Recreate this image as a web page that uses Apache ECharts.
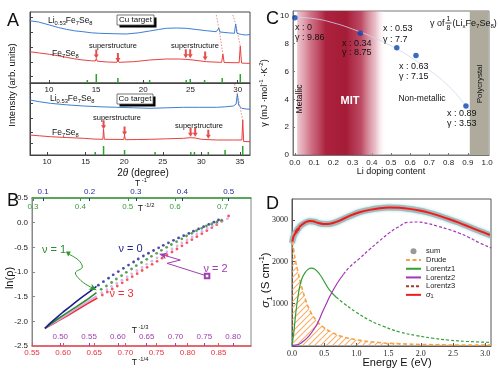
<!DOCTYPE html>
<html><head><meta charset="utf-8">
<script src="https://cdn.jsdelivr.net/npm/echarts@6/dist/echarts.min.js"></script>
<style>html,body{margin:0;padding:0;background:#fff}#c{width:500px;height:369px}</style>
</head><body><div id="c"></div><script>
// ---------- Panel A : XRD, 2theta (deg) vs intensity (arb. units) ----------
const cuLi = [[7.96,62.3],[8.9,61],[10.07,58],[11.0,55.5],[11.84,53.7],[12.7,52.2],[13.6,51.3],[14.5,50.2],[15.37,49.7],[16.8,49.3],[18.2,49],[19.5,50.2],[20.67,52],[21.6,53.5],[22.44,54.7],[23.5,55],[24.55,54.7],[25.6,53.5],[26.67,52.3],[27.73,51.3],[27.88,51.5],[28.0,55],[28.12,51],[28.26,50.7],[29.0,50.2],[29.65,49.7],[29.78,59],[29.92,49.7],[30.4,48.5],[30.9,48],[31.3,48.5]];
const cuFe = [[7.96,31.3],[9.0,30],[10.07,28.7],[11.0,27.2],[11.84,25.7],[12.7,24.2],[13.6,23],[14.5,22.2],[14.92,22],[15.02,24.5],[15.12,21.8],[16.2,21],[17.2,20.7],[17.31,23],[17.42,20.7],[19.0,21.3],[20.67,23],[22.44,24],[23.85,24],[24.5,23.6],[25.26,23],[26.67,21.3],[28.08,20.7],[28.3,20.7],[28.43,29],[28.56,20.5],[29.5,20.3],[30.15,20.3],[30.27,37],[30.4,20],[30.8,19.7],[31.3,19.7]];
const cuRef = [[14.07,3],[15.02,9],[17.31,5],[20.67,3],[24.55,3],[24.97,4],[26.49,3],[28.36,5],[30.27,9]];
const cuArrows = [[15.02,29],[17.31,25.5],[24.5,29.3],[24.97,29.3],[26.55,27]];
const cuShift1 = [[27.73,68],[28.0,55],[28.43,29]];
const cuShift2 = [[29.49,68],[29.78,59],[30.27,37]];

const coLi = [[7.8,55],[9.0,53.3],[10.43,51.7],[12.5,50.2],[14.74,49],[17.0,48.2],[19.06,47.7],[21.2,47.2],[23.36,46.7],[25.5,47.2],[27.67,47.7],[29.8,47.7],[31.99,47.7],[33.1,48.2],[34.14,49],[34.5,51],[34.66,61],[34.82,50],[35.22,46.7],[35.8,46],[36.3,45.7]];
const coFe = [[7.8,20],[9.0,19.2],[10.43,18.3],[12.5,17.5],[14.74,16.7],[16.2,15.9],[17.24,15.7],[17.33,26],[17.43,15.7],[18.7,15.6],[19.95,15.5],[20.05,20],[20.15,15.3],[21.7,15.5],[23.36,15.7],[25.5,16.2],[27.67,16.7],[28.6,17.3],[29.2,17],[30.0,15.7],[31.99,15],[34.14,15],[35.25,15],[35.36,35],[35.48,13.5],[36.3,13.3]];
const coRef = [[16.25,3],[17.33,9],[20.05,5],[24.0,3],[28.63,3],[29.1,3],[30.9,3],[33.07,5],[35.36,9]];
const coArrows = [[17.33,30.3],[20.05,24],[28.6,22.7],[29.2,22.7],[30.9,20.7]];
const coShift = [[34.3,71],[34.66,61],[35.36,35]];
const cuTicks = [10,15,20,25,30];
const coTicks = [10,15,20,25,30,35];

// ---------- Panel B : ln(rho) vs T^-nu ----------
const nu0Line = [[0.104,-2.142],[0.114,-2.047],[0.129,-1.926],[0.143,-1.811],[0.158,-1.703],[0.172,-1.595],[0.186,-1.493],[0.201,-1.392],[0.215,-1.291]];
const nu0Dots = [[0.219,-1.267],[0.230,-1.196],[0.241,-1.125],[0.251,-1.057],[0.262,-0.992],[0.273,-0.926],[0.284,-0.860],[0.295,-0.797],[0.305,-0.736],[0.316,-0.676],[0.327,-0.620],[0.338,-0.564],[0.349,-0.510],[0.359,-0.459],[0.370,-0.409],[0.381,-0.358],[0.392,-0.309],[0.403,-0.264],[0.414,-0.218],[0.424,-0.172],[0.435,-0.127],[0.446,-0.081],[0.457,-0.036],[0.468,0.009],[0.478,0.054]];
const nu1Line = [[0.325,-2.142],[0.349,-1.973],[0.370,-1.838],[0.392,-1.703],[0.413,-1.568],[0.434,-1.419]];
const nu1Dots = [[0.444,-1.351],[0.455,-1.284],[0.466,-1.213],[0.476,-1.142],[0.487,-1.074],[0.497,-1.007],[0.508,-0.939],[0.518,-0.872],[0.529,-0.807],[0.540,-0.743],[0.550,-0.682],[0.561,-0.622],[0.571,-0.561],[0.582,-0.500],[0.592,-0.443],[0.603,-0.385],[0.614,-0.328],[0.624,-0.270],[0.635,-0.216],[0.645,-0.162],[0.656,-0.115],[0.666,-0.068],[0.677,-0.027],[0.688,0.014],[0.698,0.051]];
const nu2Line = [[0.473,-2.142],[0.494,-1.993],[0.511,-1.872],[0.528,-1.743],[0.546,-1.615],[0.563,-1.486]];
const nu2Dots = [[0.572,-1.422],[0.581,-1.358],[0.589,-1.294],[0.598,-1.230],[0.607,-1.166],[0.616,-1.101],[0.624,-1.037],[0.633,-0.973],[0.642,-0.909],[0.650,-0.845],[0.659,-0.780],[0.668,-0.716],[0.676,-0.655],[0.685,-0.595],[0.694,-0.534],[0.703,-0.473],[0.711,-0.412],[0.720,-0.351],[0.729,-0.291],[0.737,-0.230],[0.746,-0.176],[0.755,-0.122],[0.764,-0.068],[0.772,-0.014],[0.781,0.034],[0.790,0.081]];
const nu3Line = [[0.571,-2.142],[0.590,-2.007],[0.606,-1.892],[0.622,-1.770],[0.638,-1.649],[0.655,-1.527]];
const nu3Dots = [[0.663,-1.466],[0.671,-1.405],[0.679,-1.345],[0.687,-1.284],[0.695,-1.220],[0.703,-1.155],[0.711,-1.095],[0.719,-1.034],[0.727,-0.970],[0.735,-0.905],[0.743,-0.845],[0.751,-0.784],[0.759,-0.720],[0.767,-0.655],[0.775,-0.595],[0.783,-0.534],[0.791,-0.470],[0.799,-0.405],[0.807,-0.345],[0.815,-0.284],[0.823,-0.223],[0.831,-0.162],[0.839,-0.101],[0.847,-0.041],[0.855,0.027],[0.866,0.135]];
const nu1Pointer = [[0.6084,-0.635],[0.6245,-0.757],[0.6309,-0.899],[0.6197,-1.020],[0.6261,-1.142],[0.6358,-1.243],[0.6534,-1.365]];
const nu2Pointer = [[0.8314,-1.081],[0.7671,-0.824],[0.7884,-0.757],[0.7552,-0.635]];
const tInvTicks = [0.1,0.2,0.3,0.4,0.5];
const tHalfTicks = [0.3,0.4,0.5,0.6,0.7];
const tThirdTicks = [0.45,0.5,0.55,0.6,0.65,0.7,0.75,0.8];
const tQuarterTicks = [0.55,0.6,0.65,0.7,0.75,0.8,0.85];

// ---------- Panel C : gamma vs Li content ----------
const liContent = [0, 0.34, 0.53, 0.63, 0.89];
const gammaVals = [9.86, 8.75, 7.7, 7.15, 3.53];
const fitX = [0,0.1,0.2,0.3,0.4,0.5,0.6,0.7,0.8,0.89,0.93];
const fitY = [9.9,9.8,9.5,9.05,8.5,7.85,7.05,6.1,4.95,3.55,2.85];
const cTicksX = [0,0.1,0.2,0.3,0.4,0.5,0.6,0.7,0.8,0.9,1.0];
const cTicksY = [0,2,4,6,8,10];

// ---------- Panel D : optical conductivity ----------
const sigmaData = [[0.005,2480],[0.026,2616],[0.052,2680],[0.06,2740],[0.07,2700],[0.083,2790],[0.095,2750],[0.119,2840],[0.171,2904],[0.222,2952],[0.274,2976],[0.326,2968],[0.403,2928],[0.481,2904],[0.558,2904],[0.636,2928],[0.739,2984],[0.894,3096],[1.049,3184],[1.204,3240],[1.359,3280],[1.514,3296],[1.669,3288],[1.824,3264],[1.979,3224],[2.134,3168],[2.289,3096],[2.444,3016],[2.599,2928],[2.755,2832],[2.91,2736],[3.075,2640]];
const sumFit = [[0.0,2450],[0.03,2630],[0.06,2710],[0.1,2800],[0.15,2880],[0.22,2945],[0.28,2970],[0.35,2955],[0.45,2910],[0.55,2900],[0.65,2930],[0.75,2990],[0.9,3095],[1.05,3185],[1.2,3240],[1.35,3278],[1.5,3295],[1.65,3290],[1.8,3268],[1.95,3230],[2.1,3180],[2.25,3115],[2.4,3035],[2.55,2955],[2.7,2865],[2.85,2770],[3.0,2680],[3.09,2625]];
const drude = [[0.005,2480],[0.031,2240],[0.057,2000],[0.093,1760],[0.129,1520],[0.171,1280],[0.222,1040],[0.289,800],[0.377,600],[0.481,440],[0.610,320],[0.765,216],[0.997,136],[1.307,72],[1.669,38],[2.083,18],[2.548,8],[3.09,4]];
const lor1Solid = [[0,0],[0.026,280],[0.047,600],[0.067,880],[0.093,1160],[0.119,1400],[0.155,1600],[0.196,1720],[0.248,1816],[0.300,1848],[0.351,1825],[0.429,1700],[0.506,1510],[0.584,1320],[0.687,1150]];
const lor1Dash = [[0.687,1150],[0.817,990],[0.997,790],[1.204,600],[1.411,460],[1.669,320],[1.928,235],[2.186,170],[2.444,125],[2.703,95],[3.09,70]];
const lor2Solid = [[0,0],[0.1,20],[0.17,90],[0.25,200],[0.33,360],[0.4,540],[0.48,820],[0.55,1050],[0.6,1210],[0.7,1480],[0.8,1700]];
const lor2Dash = [[0.8,1700],[0.9,1880],[1.05,2080],[1.2,2290],[1.36,2500],[1.51,2690],[1.65,2830],[1.8,2940],[1.95,2950],[2.1,2915],[2.25,2855],[2.44,2770],[2.6,2680],[2.75,2580],[2.9,2460],[3.09,2330]];
const lor3 = [];
const dTicksY = [1000,2000,3000];

// ---------------------------------------------------------------
const FONT = 'Liberation Sans, Arial, Helvetica, sans-serif';
const SERIF = 'Liberation Serif, Times New Roman, serif';
const chart = echarts.init(document.getElementById('c'), null, {renderer:'canvas', width:500, height:369});

const zip = (a,b) => a.map((v,i)=>[v,b[i]]);
const DOWN_ARROW = 'path://M3,0L7,0L7,9L10,9L5,16L0,9L3,9Z';

function rich(size, color){
  color = color || '#111';
  return {
    m:{fontSize:size, fontFamily:FONT, fill:color, color:color, verticalAlign:'middle'},
    i:{fontSize:size, fontFamily:FONT, fill:color, color:color, fontStyle:'italic', verticalAlign:'middle'},
    s:{fontSize:size*0.68, fontFamily:FONT, fill:color, color:color, padding:[size*0.6,0,0,0], verticalAlign:'middle'},
    p:{fontSize:size*0.68, fontFamily:FONT, fill:color, color:color, padding:[0,0,size*0.75,0], verticalAlign:'middle'}
  };
}
function T(x,y,text,o){
  o = o || {};
  const st = {text:text, fill:o.color||'#111', fontSize:o.size||9, fontFamily:o.family||FONT,
    fontWeight:o.weight||'normal', fontStyle:o.fstyle||'normal', align:o.align||'center', verticalAlign:'middle'};
  if (o.rich) st.rich = o.rich;
  return {type:'text', x:x, y:y, rotation:o.rot||0, z:100, silent:true, style:st};
}
const chem = (parts) => parts.map(p => p[1] ? '{s|'+p[0]+'}' : '{m|'+p[0]+'}').join('');
const LiFe = chem([['Li'],['0.53',1],['Fe'],['7',1],['Se'],['8',1]]);
const Fe = chem([['Fe'],['7',1],['Se'],['8',1]]);

// hatch pattern for Drude area (orange diagonal lines on transparent)
const hatch = document.createElement('canvas');
hatch.width = 6; hatch.height = 6;
(function(){const g = hatch.getContext('2d'); g.clearRect(0,0,6,6); g.strokeStyle='#f8b06a'; g.lineWidth=1.1;
 g.beginPath(); g.moveTo(0,6); g.lineTo(6,0); g.moveTo(-1,1); g.lineTo(1,-1); g.moveTo(5,7); g.lineTo(7,5); g.stroke();})();

const labelBase = {fontSize:8, color:'#222', fontFamily:FONT};
function valAxis(o){
  const a = Object.assign({type:'value', splitLine:{show:false}}, o);
  if (a.axisLine) a.axisLine.onZero = false; else a.axisLine = {onZero:false};
  return a;
}

const option = {
  animation:false,
  backgroundColor:'#fff',
  grid:[
    {left:30, top:12, width:220, height:71, show:true, borderColor:'#444', borderWidth:1},
    {left:30, top:83, width:220, height:72, show:true, borderColor:'#444', borderWidth:1},
    {left:32, top:198, width:219, height:148, show:true, borderColor:'#888', borderWidth:1},
    {left:32, top:198, width:219, height:148, show:false},
    {left:293, top:11, width:196, height:144, show:true, borderColor:'#777', borderWidth:1},
    {left:292, top:199, width:199, height:147, show:true, borderColor:'#555', borderWidth:1}
  ],
  xAxis:[
    valAxis({gridIndex:0, min:8, max:31.3, axisLine:{lineStyle:{color:'#444'}},
      axisTick:{inside:true, length:3, customValues:cuTicks, lineStyle:{color:'#444'}},
      axisLabel:Object.assign({margin:3, customValues:cuTicks}, labelBase)}),
    valAxis({gridIndex:1, min:7.8, max:36.3, axisLine:{lineStyle:{color:'#444'}},
      axisTick:{inside:true, length:3, customValues:coTicks, lineStyle:{color:'#444'}},
      axisLabel:Object.assign({margin:3, customValues:coTicks}, labelBase)}),
    valAxis({gridIndex:2, position:'top', min:0.076, max:0.548, axisLine:{show:false},
      axisTick:{inside:true, length:3, customValues:tInvTicks, lineStyle:{color:'#2b2b9b'}},
      axisLabel:{customValues:tInvTicks, margin:2, fontSize:8, color:'#2b2b9b', fontFamily:FONT, formatter:v=>v.toFixed(1)}}),
    valAxis({gridIndex:2, position:'bottom', min:0.55, max:0.902, axisLine:{lineStyle:{color:'#ee4a55', width:1.5}},
      axisTick:{inside:true, length:3, customValues:tQuarterTicks, lineStyle:{color:'#ee4a55'}},
      axisLabel:{customValues:tQuarterTicks, margin:3, fontSize:8, color:'#e8333d', fontFamily:FONT, formatter:v=>v.toFixed(2)}}),
    valAxis({gridIndex:3, position:'top', min:0.298, max:0.76, axisLine:{lineStyle:{color:'#3a9a3a', width:1.5}},
      axisTick:{inside:true, length:3, customValues:tHalfTicks, lineStyle:{color:'#3a9a3a'}},
      axisLabel:{inside:true, customValues:tHalfTicks, margin:5, fontSize:8, color:'#3a9a3a', fontFamily:FONT, formatter:v=>v.toFixed(1)}}),
    valAxis({gridIndex:3, position:'bottom', min:0.451, max:0.831, axisLine:{show:false},
      axisTick:{inside:true, length:3, customValues:tThirdTicks, lineStyle:{color:'#a040b0'}},
      axisLabel:{inside:true, customValues:tThirdTicks, margin:5, fontSize:8, color:'#a040b0', fontFamily:FONT, formatter:v=>v.toFixed(2)}}),
    valAxis({gridIndex:4, min:-0.01, max:1.01, axisLine:{lineStyle:{color:'#777'}},
      axisTick:{inside:true, length:2, customValues:cTicksX, lineStyle:{color:'#777'}},
      axisLabel:Object.assign({margin:4, customValues:cTicksX, formatter:v=>v.toFixed(1)}, labelBase)}),
    valAxis({gridIndex:5, min:0, max:3.09, interval:0.5, axisLine:{lineStyle:{color:'#555'}},
      axisTick:{inside:true, length:3, lineStyle:{color:'#555'}},
      axisLabel:{margin:4, fontSize:8, color:'#222', fontFamily:SERIF, formatter:v=>v.toFixed(1)}})
  ],
  yAxis:[
    valAxis({gridIndex:0, min:0, max:71, axisLine:{lineStyle:{color:'#444'}},
      axisTick:{inside:true, length:3, customValues:[7,21,36,51,66], lineStyle:{color:'#444'}}, axisLabel:{show:false}}),
    valAxis({gridIndex:1, min:0, max:72, axisLine:{lineStyle:{color:'#444'}},
      axisTick:{inside:true, length:3, customValues:[12,23,37,52,63], lineStyle:{color:'#444'}}, axisLabel:{show:false}}),
    valAxis({gridIndex:2, min:-2.5, max:0.5, interval:0.5, axisLine:{lineStyle:{color:'#888'}},
      axisTick:{inside:true, length:3, lineStyle:{color:'#888'}},
      axisLabel:{margin:4, fontSize:8, color:'#222', fontFamily:FONT, formatter:v=>v.toFixed(1)}}),
    valAxis({gridIndex:3, min:-2.5, max:0.5, show:false}),
    valAxis({gridIndex:4, min:0, max:10.35, axisLine:{lineStyle:{color:'#777'}},
      axisTick:{inside:true, length:2, customValues:cTicksY, lineStyle:{color:'#777'}},
      axisLabel:Object.assign({margin:4, customValues:cTicksY}, labelBase)}),
    valAxis({gridIndex:5, min:-16, max:3500, axisLine:{lineStyle:{color:'#555'}},
      axisTick:{inside:true, length:3, customValues:dTicksY, lineStyle:{color:'#555'}},
      axisLabel:{margin:4, customValues:dTicksY, fontSize:8, color:'#222', fontFamily:SERIF, formatter:v=>String(v)}})
  ],
  legend:{
    orient:'vertical', left:400, top:242, itemWidth:15, itemHeight:6, itemGap:0, selectedMode:false,
    itemStyle:{opacity:0},
    textStyle:{fontSize:7.5, lineHeight:8.7, color:'#222', fontFamily:FONT,
      rich:{g:{fontSize:7.5, fontFamily:FONT, fontStyle:'italic'}, s:{fontSize:5.5, fontFamily:FONT, padding:[4,0,0,0]}}},
    formatter:(n)=> n==='σ1' ? '{g|σ}{s|1}' : n,
    data:[{name:'sum', icon:'circle', itemStyle:{color:'#999', opacity:1}, lineStyle:{opacity:0}}, 'Drude','Lorentz1','Lorentz2','Lorentz3','σ1']
  },
  series:[
    // ---- A top (Cu)
    {type:'line', xAxisIndex:0, yAxisIndex:0, data:cuShift1, symbol:'none', lineStyle:{color:'#f28a8a', width:1, type:[1.5,1.5]}, z:1},
    {type:'line', xAxisIndex:0, yAxisIndex:0, data:cuShift2, symbol:'none', lineStyle:{color:'#f28a8a', width:1, type:[1.5,1.5]}, z:1},
    {type:'line', xAxisIndex:0, yAxisIndex:0, data:cuLi, symbol:'none', lineStyle:{color:'#3d7fd2', width:1}},
    {type:'line', xAxisIndex:0, yAxisIndex:0, data:cuFe, symbol:'none', lineStyle:{color:'#e8403e', width:1}},
    {type:'bar', xAxisIndex:0, yAxisIndex:0, data:cuRef, barWidth:1.5, itemStyle:{color:'#2aa52a'}},
    {type:'scatter', xAxisIndex:0, yAxisIndex:0, data:cuArrows, symbol:DOWN_ARROW, symbolSize:[5,9], itemStyle:{color:'#e02020'}, z:5},
    // ---- A bottom (Co)
    {type:'line', xAxisIndex:1, yAxisIndex:1, data:coShift, symbol:'none', lineStyle:{color:'#f28a8a', width:1, type:[1.5,1.5]}, z:1},
    {type:'line', xAxisIndex:1, yAxisIndex:1, data:coLi, symbol:'none', lineStyle:{color:'#3d7fd2', width:1}},
    {type:'line', xAxisIndex:1, yAxisIndex:1, data:coFe, symbol:'none', lineStyle:{color:'#e8403e', width:1}},
    {type:'bar', xAxisIndex:1, yAxisIndex:1, data:coRef, barWidth:1.5, itemStyle:{color:'#2aa52a'}},
    {type:'scatter', xAxisIndex:1, yAxisIndex:1, data:coArrows, symbol:DOWN_ARROW, symbolSize:[5,9], itemStyle:{color:'#e02020'}, z:5},
    // ---- B
    {type:'line', xAxisIndex:3, yAxisIndex:2, data:nu3Line, symbol:'none', lineStyle:{color:'#ee2f3a', width:1.6}},
    {type:'scatter', xAxisIndex:3, yAxisIndex:2, data:nu3Dots, symbolSize:2.8, itemStyle:{color:'#ee2f3a'}},
    {type:'line', xAxisIndex:5, yAxisIndex:3, data:nu2Line, symbol:'none', lineStyle:{color:'#d3a8e2', width:1.6}},
    {type:'scatter', xAxisIndex:5, yAxisIndex:3, data:nu2Dots, symbolSize:2.8, itemStyle:{color:'#d3a8e2'}},
    {type:'line', xAxisIndex:4, yAxisIndex:3, data:nu1Line, symbol:'none', lineStyle:{color:'#2e8b2e', width:1.6}},
    {type:'scatter', xAxisIndex:4, yAxisIndex:3, data:nu1Dots, symbolSize:2.8, itemStyle:{color:'#2e8b2e'}},
    {type:'line', xAxisIndex:2, yAxisIndex:2, data:nu0Line, symbol:'none', lineStyle:{color:'#1f1f8f', width:1.6}},
    {type:'scatter', xAxisIndex:2, yAxisIndex:2, data:nu0Dots, symbolSize:2.8, itemStyle:{color:'#1f1f8f'}},
    {type:'line', xAxisIndex:3, yAxisIndex:2, smooth:0.4, lineStyle:{color:'#2e9a2e', width:1}, itemStyle:{color:'#2e9a2e'}, z:6,
      data: nu1Pointer.map((p,i)=> i===0 ? {value:p, symbol:'triangle', symbolSize:5, symbolRotate:180}
        : i===nu1Pointer.length-1 ? {value:p, symbol:'arrow', symbolSize:[5,7], symbolRotate:-118} : {value:p, symbol:'none'})},
    {type:'line', xAxisIndex:3, yAxisIndex:2, lineStyle:{color:'#a040b0', width:1}, itemStyle:{color:'#a040b0'}, z:6,
      data: nu2Pointer.map((p,i)=> i===0 ? {value:p, symbol:'emptyRect', symbolSize:4.5}
        : i===nu2Pointer.length-1 ? {value:p, symbol:'arrow', symbolSize:[5,7], symbolRotate:74} : {value:p, symbol:'none'})},
    // ---- C
    {type:'line', xAxisIndex:6, yAxisIndex:4, data:[], z:0,
      markArea:{silent:true, data:[
        [{xAxis:0.012, itemStyle:{color:{type:'linear', x:0, y:0, x2:1, y2:0, colorStops:[
          {offset:0, color:'rgba(222,150,168,0.55)'},{offset:0.15, color:'rgba(200,90,115,0.85)'},
          {offset:0.32, color:'rgb(172,34,62)'},{offset:0.55, color:'rgb(165,28,55)'},
          {offset:0.72, color:'rgba(184,60,88,0.92)'},{offset:0.88, color:'rgba(220,150,165,0.6)'},
          {offset:1, color:'rgba(255,255,255,0)'}]}}}, {xAxis:0.475}],
        [{xAxis:0.91, itemStyle:{color:'#aeab9c'}}, {xAxis:1.008}]
      ]}},
    {type:'line', xAxisIndex:6, yAxisIndex:4, data:zip(fitX, fitY), smooth:true, symbol:'none', lineStyle:{color:'#cbd7ec', width:0.8}, z:2},
    {type:'scatter', xAxisIndex:6, yAxisIndex:4, data:zip(liContent, gammaVals), symbolSize:5.5, itemStyle:{color:'#0d45b2'}, z:3},
    // ---- D
    {type:'line', name:'sum', xAxisIndex:7, yAxisIndex:5, data:sumFit, symbol:'none', smooth:true, color:'#999',
      lineStyle:{color:'#a9b6b6', width:6, shadowColor:'rgba(120,205,215,0.7)', shadowBlur:3}, z:2},
    {type:'line', name:'Drude', xAxisIndex:7, yAxisIndex:5, data:drude, symbol:'none', smooth:true, color:'#f6a345',
      lineStyle:{color:'#f6a345', width:1.6, type:[4,2.5]}, areaStyle:{color:{image:hatch, repeat:'repeat'}, opacity:1}, z:3},
    {type:'line', name:'Lorentz1', xAxisIndex:7, yAxisIndex:5, data:lor1Solid, symbol:'none', smooth:true, color:'#33a033',
      lineStyle:{color:'#33a033', width:1.2}, z:4},
    {type:'line', name:'Lorentz1', xAxisIndex:7, yAxisIndex:5, data:lor1Dash, symbol:'none', smooth:true, color:'#33a033',
      lineStyle:{color:'#33a033', width:1.2, type:[3,2]}, z:4},
    {type:'line', name:'Lorentz2', xAxisIndex:7, yAxisIndex:5, data:lor2Solid, symbol:'none', smooth:true, color:'#a236b6',
      lineStyle:{color:'#a236b6', width:1.2}, z:4},
    {type:'line', name:'Lorentz2', xAxisIndex:7, yAxisIndex:5, data:lor2Dash, symbol:'none', smooth:true, color:'#a236b6',
      lineStyle:{color:'#a236b6', width:1.2, type:[3,2]}, z:4},
    {type:'line', name:'Lorentz3', xAxisIndex:7, yAxisIndex:5, data:lor3, symbol:'none', color:'#a83a34',
      lineStyle:{color:'#a83a34', width:1.2, type:[3,2]}, z:4},
    {type:'line', name:'σ1', xAxisIndex:7, yAxisIndex:5, data:sigmaData, symbol:'none', smooth:0.3, color:'#ee1c1c',
      lineStyle:{color:'#ee1c1c', width:2}, z:5}
  ],
  graphic:[
    // Panel A
    T(7,21,'A',{size:18, align:'left'}),
    T(48,21,LiFe,{align:'left', rich:rich(8.5)}),
    {type:'rect', z:99, silent:true, shape:{x:119.5,y:17.5,width:37,height:10}, style:{fill:'#000'}},
    {type:'rect', z:99, silent:true, shape:{x:117,y:15,width:37,height:10}, style:{fill:'#fff', stroke:'#555', lineWidth:0.8}},
    T(135.5,20.2,'Cu target',{size:8}),
    T(52,53.5,Fe,{align:'left', rich:rich(8.5)}),
    T(113,45.5,'superstructure',{size:7.5}),
    T(195,45.5,'superstructure',{size:7.5}),
    T(50,99,LiFe,{align:'left', rich:rich(8.5)}),
    {type:'rect', z:99, silent:true, shape:{x:119.5,y:96.5,width:36,height:10}, style:{fill:'#000'}},
    {type:'rect', z:99, silent:true, shape:{x:117,y:94,width:36,height:10}, style:{fill:'#fff', stroke:'#555', lineWidth:0.8}},
    T(135,99.2,'Co target',{size:8}),
    T(52,133,Fe,{align:'left', rich:rich(8.5)}),
    T(117,117.5,'superstructure',{size:7.5}),
    T(199,126,'superstructure',{size:7.5}),
    T(143,173,'{m|2}{i|θ}{m| (degree)}',{rich:rich(10)}),
    T(12,85,'Intensity (arb. units)',{size:9.5, rot:Math.PI/2}),
    // Panel B
    T(7,201,'B',{size:18, align:'left'}),
    T(141,184,'{m|T}{p| -1}',{rich:rich(8.5)}),
    T(146,209,'{m|T}{p| -1/2}',{rich:rich(8.5)}),
    T(140,331,'{m|T}{p| -1/3}',{rich:rich(8.5)}),
    T(140,363,'{m|T}{p| -1/4}',{rich:rich(8.5)}),
    T(10,278,'ln(ρ)',{size:11, rot:Math.PI/2}),
    T(130.5,249,'ν = 0',{size:11, color:'#1f1f8f'}),
    T(54,250,'ν = 1',{size:11, color:'#2e8b2e'}),
    T(215.5,269,'ν = 2',{size:11, color:'#a040b0'}),
    T(121.5,293.5,'ν = 3',{size:11, color:'#ee2f3a'}),
    // Panel C
    T(266,19,'C',{size:18, align:'left'}),
    T(295,27.5,'x : 0',{align:'left'}), T(295,37.5,'γ : 9.86',{align:'left'}),
    T(342,43.5,'x : 0.34',{align:'left'}), T(342,52.5,'γ : 8.75',{align:'left'}),
    T(383,28.5,'x : 0.53',{align:'left'}), T(383,39.5,'γ : 7.7',{align:'left'}),
    T(399,66.5,'x : 0.63',{align:'left'}), T(399,76.5,'γ : 7.15',{align:'left'}),
    T(447,114,'x : 0.89',{align:'left'}), T(447,123.5,'γ : 3.53',{align:'left'}),
    T(350,101,'MIT',{size:11, weight:'bold', color:'#fff'}),
    T(422,98.5,'Non-metallic',{size:8.5}),
    T(300,99,'Metallic',{size:8.5, rot:Math.PI/2}),
    T(480,84,'Polycrystal',{size:8, rot:Math.PI/2}),
    T(430,24,'γ of',{size:9, align:'left'}),
    T(448.5,18.8,'1',{size:7}),
    {type:'line', z:100, silent:true, shape:{x1:445.5,y1:23,x2:451.5,y2:23}, style:{stroke:'#111', lineWidth:0.8}},
    T(448.5,27.8,'8',{size:7}),
    T(452.5,24,chem([['(Li'],['x',1],['Fe'],['7',1],['Se'],['8',1],[')']]),{align:'left', rich:rich(9)}),
    T(265,93,'{m|γ (mJ ·mol}{p|-1}{m| ·K}{p|-2}{m|)}',{rot:Math.PI/2, rich:rich(9)}),
    T(391,172,'Li doping content',{size:9}),
    // Panel D
    T(266,204,'D',{size:18, align:'left'}),
    T(397,362.5,'Energy E (eV)',{size:11}),
    T(266,280,'{i|σ}{s|1}{m| (S cm}{p|-1}{m|)}',{rot:Math.PI/2, rich:rich(11.5)})
  ]
};
chart.setOption(option);
</script></body></html>
